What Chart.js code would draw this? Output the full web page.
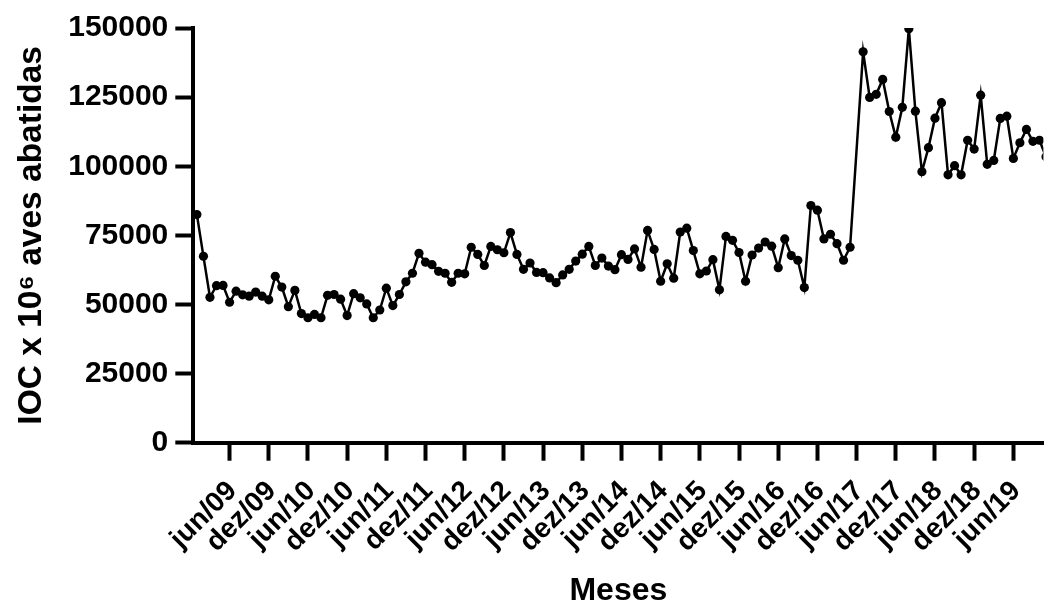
<!DOCTYPE html>
<html>
<head>
<meta charset="utf-8">
<script src="https://cdn.jsdelivr.net/npm/chart.js@4/dist/chart.umd.min.js"></script>
<style>
  body { margin: 0; background: #fff; overflow: hidden; }
</style>
</head>
<body>
<canvas id="chart" width="1048" height="607"></canvas>
<script>
// IOC per month, jan/09 .. nov/19 (null = month with no value, jun/17)
const ioc = [
  82500, 67400, 52600, 56800, 56900, 50800, 54800, 53500, 53000, 54500, 53000, 51700,
  60200, 56300, 49200, 55100, 46700, 45200, 46400, 45200, 53300, 53600, 51900, 46000,
  53900, 52400, 50200, 45200, 48000, 55900, 49600, 53600, 58200, 61300, 68500, 65300,
  64400, 62000, 61300, 58000, 61300, 61100, 70700, 68100, 64100, 71000, 69800, 68700,
  76000, 68100, 62700, 65000, 61600, 61500, 59600, 57900, 60700, 62700, 65700, 68200,
  71000, 64100, 66800, 63900, 62600, 68000, 66300, 70100, 63500, 76800, 69900, 58400,
  64700, 59500, 76200, 77600, 69500, 61100, 62100, 66200, 55300, 74600, 73200, 68800,
  58400, 67900, 70400, 72600, 71100, 63300, 73700, 67700, 66000, 56100, 85800, 84100,
  73700, 75400, 72000, 66000, 70700, null, 141400, 124900, 126000, 131400, 119800, 110500,
  121300, 149700, 119900, 98000, 106700, 117400, 123000, 96900, 100200, 96900, 109400, 106200,
  125700, 100700, 102100, 117300, 118100, 102800, 108500, 113300, 109000, 109400, 103400
];

// axis ticks: month index (0 = jan/09) and its label
const tickMonths = [5, 11, 17, 23, 29, 35, 41, 47, 53, 59, 65, 71, 77, 83, 89, 95, 101, 107, 113, 119, 125];
const tickLabels = ['jun/09', 'dez/09', 'jun/10', 'dez/10', 'jun/11', 'dez/11', 'jun/12', 'dez/12',
  'jun/13', 'dez/13', 'jun/14', 'dez/14', 'jun/15', 'dez/15', 'jun/16', 'dez/16',
  'jun/17', 'dez/17', 'jun/18', 'dez/18', 'jun/19'];

const yTicks = [0, 25000, 50000, 75000, 100000, 125000, 150000];

const FONT = "'Liberation Sans', Arial, Helvetica, sans-serif";

const points = ioc.map((v, i) => ({ x: i, y: v }));

new Chart(document.getElementById('chart'), {
  type: 'line',
  data: {
    datasets: [{
      data: points,
      borderColor: '#000',
      borderWidth: 2.5,
      backgroundColor: '#000',
      pointBackgroundColor: '#000',
      pointBorderWidth: 0,
      pointRadius: 4.6,
      tension: 0,
      spanGaps: true
    }]
  },
  options: {
    responsive: false,
    animation: false,
    layout: { padding: { top: 28, right: 0, left: 0, bottom: 0 } },
    plugins: { legend: { display: false }, tooltip: { enabled: false } },
    scales: {
      x: {
        type: 'linear',
        min: -0.55,
        max: 129.6,
        afterBuildTicks: axis => { axis.ticks = tickMonths.map(v => ({ value: v })); },
        // the plot runs right up to the edge of the picture
        afterFit: axis => { axis.paddingRight = 0; },
        border: { display: true, color: '#000', width: 4 },
        grid: { drawOnChartArea: false, drawTicks: true, tickLength: 18, tickWidth: 4, tickColor: '#000' },
        ticks: {
          autoSkip: false,
          minRotation: 45,
          maxRotation: 45,
          padding: 14,
          labelOffset: 3,
          color: '#000',
          font: { family: FONT, size: 28, weight: 'bold' },
          callback: v => {
            const k = tickMonths.indexOf(v);
            return k >= 0 ? tickLabels[k] : null;
          }
        },
        title: {
          display: true,
          text: 'Meses',
          color: '#000',
          font: { family: FONT, size: 32, weight: 'bold', lineHeight: 1 },
          padding: { top: 2, bottom: 0 }
        }
      },
      y: {
        min: 0,
        max: 150000,
        afterBuildTicks: axis => { axis.ticks = yTicks.map(v => ({ value: v })); },
        border: { display: true, color: '#000', width: 4 },
        grid: { drawOnChartArea: false, drawTicks: true, tickLength: 18, tickWidth: 4, tickColor: '#000' },
        ticks: {
          padding: 7,
          color: '#000',
          font: { family: FONT, size: 30, weight: 'bold' },
          callback: v => String(v)
        },
        title: {
          display: true,
          text: 'IOC x 10\u2076 aves abatidas',
          color: '#000',
          font: { family: FONT, size: 33.5, weight: 'bold', lineHeight: 1.2 },
          padding: { top: 12, bottom: 9 }
        }
      }
    }
  }
});
</script>
</body>
</html>
